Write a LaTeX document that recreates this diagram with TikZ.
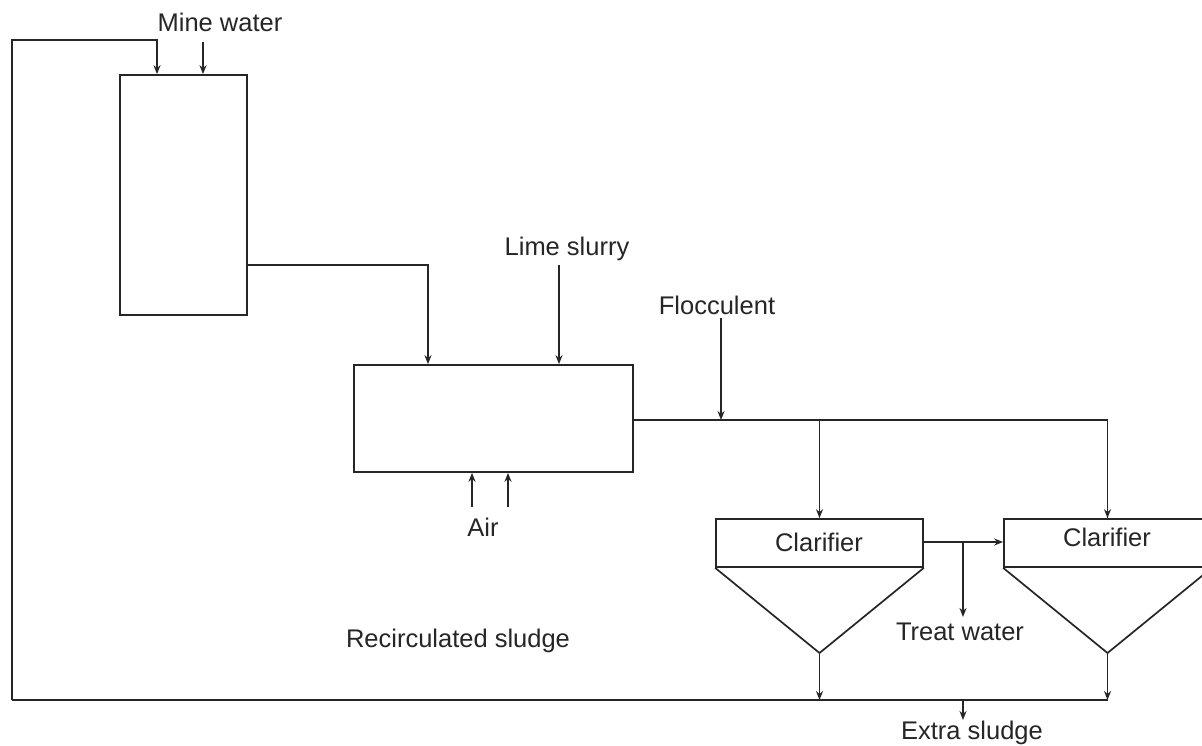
\documentclass[tikz,border=0pt]{standalone}
\usepackage{fontspec}
\setmainfont{Liberation Sans}
\usetikzlibrary{arrows.meta}
\begin{document}
\begin{tikzpicture}[x=1pt,y=-1pt,
  line width=1.5pt, draw=black!85,
  lbl/.style={font=\fontsize{25.5}{29}\selectfont, text=black!85, inner sep=0pt},
  unit/.style={draw, line width=1.7pt, inner sep=0pt},
  flow/.style={-{Stealth[length=9pt,width=7pt]}}]
\clip (0,0) rectangle (1202,746);
\fill[white] (0,0) rectangle (1202,746);
% units
\node[unit, minimum width=127pt, minimum height=240pt] (t1) at (183.5,195) {};
\node[unit, minimum width=279pt, minimum height=107pt] (t2) at (493.5,418.5) {};
\node[unit, minimum width=207pt, minimum height=48pt] (c1) at (819.5,543) {};
\node[unit, minimum width=207pt, minimum height=48pt] (c2) at (1107.5,543) {};
\node[lbl] (c1t) at (819,542) {Clarifier};
\node[lbl] (c2t) at (1107,537) {Clarifier};
% cones
\coordinate (a1) at (819.5,653);
\coordinate (a2) at (1107.5,653);
\draw[line width=1.7pt] (c1.south west) -- (a1) -- (c1.south east);
\draw[line width=1.7pt] (c2.south west) -- (a2) -- (c2.south east);
% labels
\node[lbl] (mw) at (220,22) {Mine water};
\node[lbl] (ls) at (567,249) {Lime slurry};
\node[lbl] (fl) at (717,305) {Flocculent};
\node[lbl] (air) at (483,527) {Air};
\node[lbl] (tw) at (960,632) {Treat water};
\node[lbl] (rs) at (458,641) {Recirculated sludge};
\node[lbl] (es) at (972,733) {Extra sludge};
% coordinates
\coordinate (lt) at (12,40);
\coordinate (lb) at (12,700);
\coordinate (mw1) at (157,40);
\coordinate (mw2) at (203,42);
\coordinate (r1) at (428,265);
\coordinate (ls0) at (559,265);
\coordinate (fl0) at (721,318);
\coordinate (j1) at (721,420);
\coordinate (b1) at (819.5,420);
\coordinate (b2) at (1107.5,420);
\coordinate (tj) at (963,542);
\coordinate (tw0) at (963,617);
\coordinate (air1) at (472,507);
\coordinate (air2) at (508,507);
\coordinate (d1) at (819.5,700);
\coordinate (d2) at (1107.5,700);
\coordinate (ej) at (963,700);
\coordinate (es0) at (963,720);
% flows
\draw[flow] (lb) -- (lt) -- (mw1) -- (mw1 |- t1.north);
\draw[flow] (mw2) -- (mw2 |- t1.north);
\draw[flow] (t1.east |- r1) -- (r1) -- (r1 |- t2.north);
\draw[flow] (ls0) -- (ls0 |- t2.north);
\draw[flow] (air1) -- (air1 |- t2.south);
\draw[flow] (air2) -- (air2 |- t2.south);
\draw (t2.east |- j1) -- (b2) -- (b2 |- c2.north);
\draw[flow] (fl0) -- (j1);
\draw[flow] (b1) -- (c1.north);
\draw[flow] (b2 |- c2.north) ++(0,-1) -- (c2.north);
\draw[flow] (c1.east |- tj) -- (c2.west |- tj);
\draw[flow] (tj) -- (tw0);
\draw[flow] (a1) -- (d1);
\draw[flow] (a2) -- (d2);
\draw (lb) -- (d2);
\draw[flow] (ej) -- (es0);
\end{tikzpicture}
\end{document}
